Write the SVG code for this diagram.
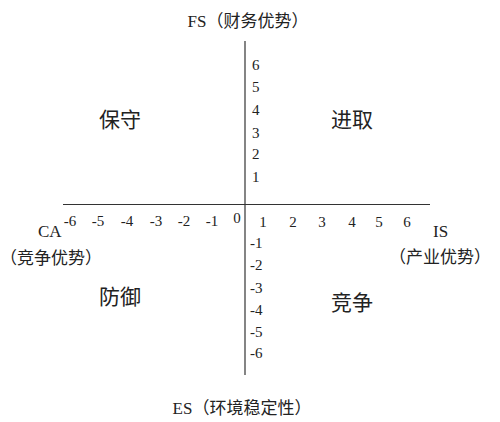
<svg xmlns="http://www.w3.org/2000/svg" width="500" height="422" viewBox="0 0 500 422">
<style>
.ax{stroke:#333;stroke-width:1.2;fill:none}
.t{font-family:"Liberation Serif","Noto Sans CJK SC",serif;fill:#222}
.n{font-size:15px}
.lab{font-size:17px}
.q{font-size:21px}
</style>
<rect width="500" height="422" fill="#fff"/>
<g id="axes">
<line class="ax" x1="245" y1="41" x2="245" y2="375"/>
<line class="ax" x1="63" y1="204.5" x2="430" y2="204.5"/>
</g>
<g id="x-ticks" class="t n" text-anchor="middle">
<text x="70" y="226">-6</text>
<text x="98" y="226">-5</text>
<text x="127" y="226">-4</text>
<text x="156" y="226">-3</text>
<text x="184" y="226">-2</text>
<text x="212" y="226">-1</text>
<text x="237" y="223">0</text>
<text x="263" y="227">1</text>
<text x="293" y="227">2</text>
<text x="322" y="227">3</text>
<text x="352" y="227">4</text>
<text x="379" y="227">5</text>
<text x="407" y="227">6</text>
</g>
<g id="y-ticks" class="t n">
<text x="252" y="70">6</text>
<text x="252" y="92">5</text>
<text x="252" y="115">4</text>
<text x="252" y="138">3</text>
<text x="252" y="159">2</text>
<text x="252" y="182">1</text>
<text x="250" y="248">-1</text>
<text x="250" y="270">-2</text>
<text x="250" y="293">-3</text>
<text x="250" y="315">-4</text>
<text x="250" y="337">-5</text>
<text x="250" y="358">-6</text>
</g>
<g id="axis-labels" class="t lab">
<text x="248" y="27" text-anchor="middle">FS（财务优势）</text>
<text x="242" y="414" text-anchor="middle">ES（环境稳定性）</text>
<text x="38" y="237">CA</text>
<text x="51" y="264" text-anchor="middle">（竞争优势）</text>
<text x="433" y="237">IS</text>
<text x="440" y="263" text-anchor="middle">（产业优势）</text>
</g>
<g id="quadrants" class="t q" text-anchor="middle">
<text x="120" y="127">保守</text>
<text x="352" y="127">进取</text>
<text x="120" y="304">防御</text>
<text x="352" y="310">竞争</text>
</g>
</svg>
